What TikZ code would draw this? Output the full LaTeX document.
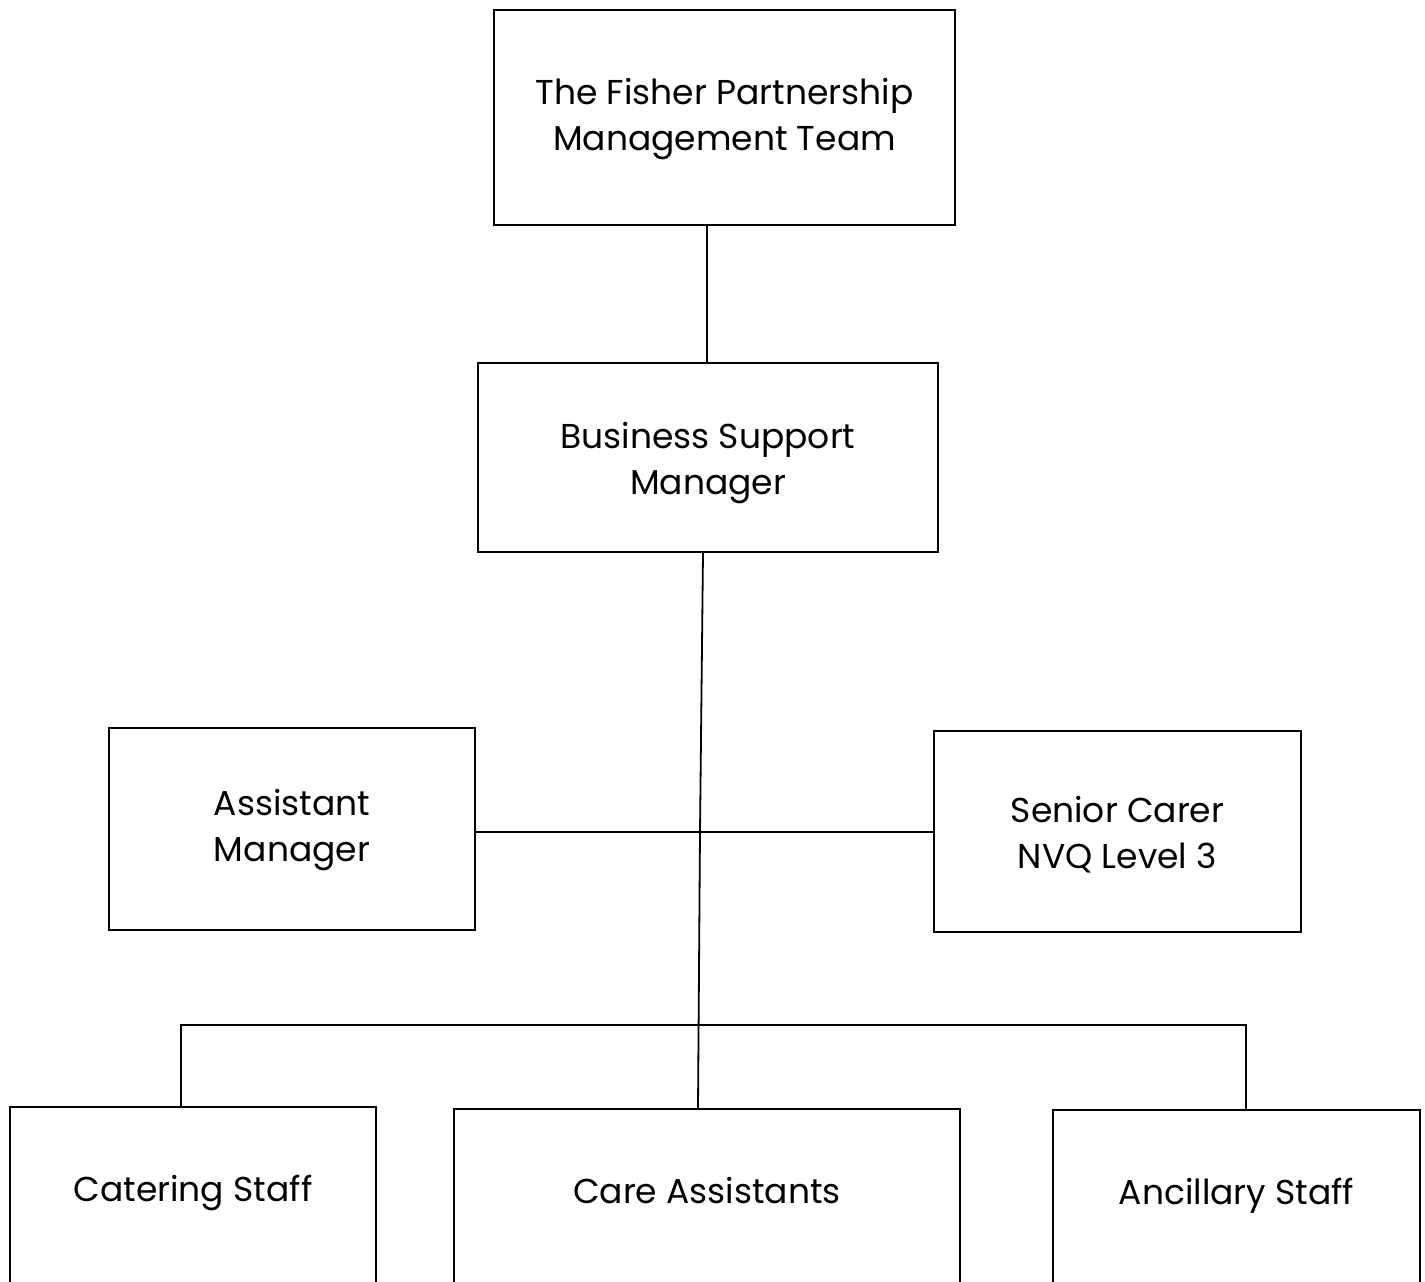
\documentclass[tikz,border=0pt]{standalone}
\usepackage{fontspec}
\setmainfont{Poppins}
\begin{document}
\begin{tikzpicture}[x=1pt,y=-1pt,
  box/.style={draw, line width=1.8pt, inner sep=0pt, rectangle},
  lbl/.style={font=\fontsize{34.5}{46}\selectfont, align=center, inner sep=0pt},
  lblone/.style={lbl, text height=25pt, text depth=8pt},
  conn/.style={line width=1.8pt}]
\useasboundingbox[fill=white] (0,0) rectangle (1425,1282);
\begin{scope}
\clip (0,0) rectangle (1425,1282);
\node[box, minimum width=461pt, minimum height=215pt] (top) at (724.5,117.5) {};
\node[lbl] at (top.center) [yshift=-2pt] {The Fisher Partnership\\Management Team};
\node[box, minimum width=460pt, minimum height=189pt] (bsm) at (708,457.5) {};
\node[lbl] at (bsm.center) [yshift=-6pt] {Business Support\\Manager};
\node[box, minimum width=366pt, minimum height=202pt] (am) at (292,829) {};
\node[lbl] at (am.center) [yshift=-1pt] {Assistant\\Manager};
\node[box, minimum width=367pt, minimum height=201pt] (sc) at (1117.5,831.5) {};
\node[lbl] at (sc.center) [yshift=-3pt] {Senior Carer\\NVQ Level 3};
\node[box, minimum width=366pt, minimum height=220pt] (cat) at (193,1217) {};
\node[lblone] at (193,1193) {Catering Staff};
\node[box, minimum width=506pt, minimum height=220pt] (care) at (707,1219) {};
\node[lblone] at (707,1195) {Care Assistants};
\node[box, minimum width=367pt, minimum height=220pt] (anc) at (1236.5,1220) {};
\node[lblone] at (1236.5,1196) {Ancillary Staff};
\end{scope}
\coordinate (j1) at (700,832);
\coordinate (j2) at (699,1025);
\draw[conn] (top.south -| 707,0) -- (bsm.north -| 707,0);
\draw[conn] (bsm.south -| 703,0) -- (j1) -- (care.north -| 698,0);
\draw[conn] (am.east |- j1) -- (j1) -- (sc.west |- j1);
\draw[conn] (cat.north -| 181,0) -- (181,1025) -- (j2) -- (1246,1025) -- (anc.north -| 1246,0);
\end{tikzpicture}
\end{document}
